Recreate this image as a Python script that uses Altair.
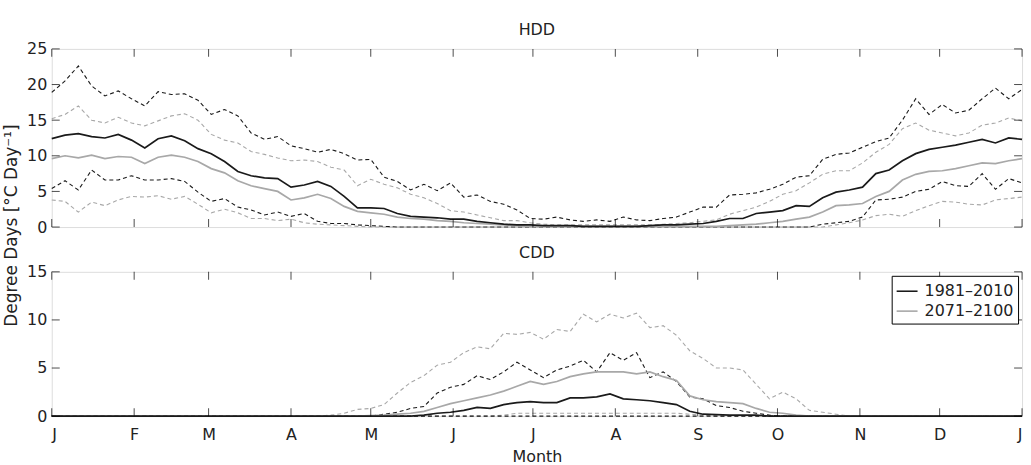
import altair as alt
import pandas as pd

# ---------------- data ----------------
DAYS = list(range(0, 366, 5))  # every 5th day of the year
MONTH_DAYS = [0, 31, 59, 90, 120, 151, 181, 212, 243, 273, 304, 334, 365]
MONTH_LABELS = ["J", "F", "M", "A", "M", "J", "J", "A", "S", "O", "N", "D", "J"]
P1 = "1981–2010"
P2 = "2071–2100"
HDD_TICKS = [0, 5, 10, 15, 20, 25]
CDD_TICKS = [0, 5, 10, 15]

hdd_p1_mean = [12.4, 12.9, 13.1, 12.7, 12.5, 13.0, 12.2, 11.1, 12.4, 12.8,
               12.1, 11.0, 10.3, 9.2, 7.8, 7.2, 6.9, 6.8, 5.6, 5.9,
               6.4, 5.7, 4.3, 2.7, 2.7, 2.6, 1.9, 1.5, 1.4, 1.3,
               1.1, 1.1, 0.8, 0.6, 0.4, 0.3, 0.3, 0.2, 0.2, 0.2,
               0.1, 0.1, 0.1, 0.1, 0.1, 0.2, 0.3, 0.3, 0.4, 0.5,
               0.8, 1.2, 1.2, 1.9, 2.1, 2.3, 3.0, 2.9, 4.1, 4.9,
               5.2, 5.6, 7.5, 8.0, 9.3, 10.3, 10.9, 11.2, 11.5, 11.9,
               12.3, 11.8, 12.5, 12.3]
hdd_p2_mean = [9.6, 10.0, 9.7, 10.1, 9.6, 9.9, 9.8, 8.9, 9.8, 10.1,
               9.8, 9.2, 8.2, 7.6, 6.5, 5.8, 5.4, 5.0, 3.8, 4.1,
               4.6, 4.0, 2.9, 2.2, 2.0, 1.8, 1.4, 1.2, 1.1, 0.9,
               0.8, 0.6, 0.5, 0.4, 0.3, 0.2, 0.1, 0.1, 0.1, 0.1,
               0.1, 0.1, 0.1, 0.1, 0.1, 0.1, 0.1, 0.1, 0.1, 0.1,
               0.1, 0.2, 0.3, 0.4, 0.6, 0.8, 1.1, 1.4, 2.1, 3.0,
               3.1, 3.3, 4.3, 5.0, 6.6, 7.4, 7.8, 7.9, 8.2, 8.6,
               9.0, 8.9, 9.3, 9.6]
hdd_p1_high = [18.9, 20.5, 22.6, 19.8, 18.4, 19.1, 18.0, 17.0, 19.0, 18.6,
               18.7, 17.8, 15.8, 16.5, 15.6, 13.2, 12.3, 12.7, 11.4, 11.0,
               10.5, 10.9, 10.3, 9.4, 9.5, 7.0, 6.4, 5.2, 6.0, 5.1,
               6.2, 4.2, 4.5, 3.6, 3.2, 2.4, 1.2, 1.1, 1.4, 1.0,
               0.8, 1.0, 0.8, 1.4, 1.0, 0.9, 1.2, 1.4, 2.1, 2.8,
               2.8, 4.5, 4.6, 4.8, 5.3, 6.0, 7.0, 7.2, 9.5, 10.2,
               10.4, 11.2, 12.0, 12.5, 15.0, 18.0, 15.8, 17.2, 16.0, 16.4,
               18.0, 19.5, 18.0, 19.3]
hdd_p1_low = [5.4, 6.5, 5.2, 8.0, 6.6, 6.6, 7.2, 6.6, 6.6, 6.8,
              6.4, 4.9, 3.6, 4.0, 2.8, 2.4, 1.7, 2.1, 1.5, 1.9,
              0.8, 0.5, 0.5, 0.3, 0.2, 0.1, 0.0, 0.0, 0.0, 0.0,
              0.0, 0.0, 0.0, 0.0, 0.0, 0.0, 0.0, 0.0, 0.0, 0.0,
              0.0, 0.0, 0.0, 0.0, 0.0, 0.0, 0.0, 0.0, 0.0, 0.0,
              0.0, 0.0, 0.0, 0.0, 0.0, 0.0, 0.0, 0.0, 0.4, 0.6,
              0.8, 1.4, 3.8, 3.9, 4.2, 5.0, 5.3, 6.4, 5.8, 5.7,
              7.5, 5.3, 6.8, 6.2]
hdd_p2_high = [15.2, 15.8, 17.0, 15.0, 14.6, 15.4, 14.6, 14.2, 14.9, 15.6,
               15.9, 15.0, 13.0, 12.2, 11.8, 10.6, 10.2, 9.7, 9.3, 9.4,
               9.2, 8.4, 8.0, 5.8, 6.7, 6.0, 5.5, 4.6, 4.1, 3.3,
               2.3, 2.1, 1.7, 1.3, 0.9, 0.9, 0.6, 0.4, 0.3, 0.3,
               0.3, 0.3, 0.3, 0.3, 0.3, 0.3, 0.4, 0.5, 0.6, 0.8,
               1.0, 1.8, 2.3, 2.8, 3.6, 4.6, 5.1, 6.2, 7.4, 7.9,
               7.9, 9.0, 10.5, 11.6, 13.8, 14.6, 13.6, 13.2, 12.8, 13.2,
               14.3, 14.6, 15.3, 14.9]
hdd_p2_low = [3.8, 3.6, 2.1, 3.5, 3.0, 3.8, 4.3, 4.2, 4.4, 3.9,
              4.3, 3.2, 2.0, 2.5, 2.0, 1.2, 1.2, 0.9, 1.1, 0.6,
              0.4, 0.3, 0.2, 0.1, 0.0, 0.0, 0.0, 0.0, 0.0, 0.0,
              0.0, 0.0, 0.0, 0.0, 0.0, 0.0, 0.0, 0.0, 0.0, 0.0,
              0.0, 0.0, 0.0, 0.0, 0.0, 0.0, 0.0, 0.0, 0.0, 0.0,
              0.0, 0.0, 0.0, 0.0, 0.0, 0.0, 0.0, 0.0, 0.0, 0.3,
              0.6, 1.0, 1.6, 1.8, 1.5, 2.3, 3.0, 3.6, 3.5, 3.2,
              3.1, 3.8, 4.0, 4.2]

cdd_p1_mean = [0.0, 0.0, 0.0, 0.0, 0.0, 0.0, 0.0, 0.0, 0.0, 0.0,
               0.0, 0.0, 0.0, 0.0, 0.0, 0.0, 0.0, 0.0, 0.0, 0.0,
               0.0, 0.0, 0.0, 0.0, 0.0, 0.0, 0.0, 0.0, 0.1, 0.3,
               0.4, 0.6, 0.9, 0.8, 1.2, 1.4, 1.5, 1.4, 1.4, 1.9,
               1.9, 2.0, 2.3, 1.8, 1.7, 1.6, 1.4, 1.2, 0.5, 0.2,
               0.15, 0.1, 0.1, 0.1, 0.0, 0.0, 0.0, 0.0, 0.0, 0.0,
               0.0, 0.0, 0.0, 0.0, 0.0, 0.0, 0.0, 0.0, 0.0, 0.0,
               0.0, 0.0, 0.0, 0.0]
cdd_p2_mean = [0.0, 0.0, 0.0, 0.0, 0.0, 0.0, 0.0, 0.0, 0.0, 0.0,
               0.0, 0.0, 0.0, 0.0, 0.0, 0.0, 0.0, 0.0, 0.0, 0.0,
               0.0, 0.0, 0.0, 0.0, 0.05, 0.1, 0.2, 0.3, 0.5, 0.9,
               1.3, 1.6, 1.9, 2.2, 2.6, 3.1, 3.6, 3.3, 3.6, 4.1,
               4.4, 4.6, 4.6, 4.6, 4.4, 4.6, 4.1, 3.7, 2.1, 1.7,
               1.5, 1.4, 1.3, 0.8, 0.4, 0.3, 0.1, 0.0, 0.0, 0.0,
               0.0, 0.0, 0.0, 0.0, 0.0, 0.0, 0.0, 0.0, 0.0, 0.0,
               0.0, 0.0, 0.0, 0.0]
cdd_p1_high = [0.0, 0.0, 0.0, 0.0, 0.0, 0.0, 0.0, 0.0, 0.0, 0.0,
               0.0, 0.0, 0.0, 0.0, 0.0, 0.0, 0.0, 0.0, 0.0, 0.0,
               0.0, 0.0, 0.0, 0.0, 0.0, 0.2, 0.4, 0.8, 1.0, 2.4,
               3.0, 3.3, 4.2, 3.8, 4.6, 5.6, 4.8, 4.0, 4.8, 5.2,
               5.8, 4.6, 6.6, 5.8, 6.6, 4.0, 4.6, 3.6, 2.0, 1.8,
               1.1, 0.9, 0.5, 0.3, 0.1, 0.0, 0.0, 0.0, 0.0, 0.0,
               0.0, 0.0, 0.0, 0.0, 0.0, 0.0, 0.0, 0.0, 0.0, 0.0,
               0.0, 0.0, 0.0, 0.0]
cdd_p1_low = [0.0, 0.0, 0.0, 0.0, 0.0, 0.0, 0.0, 0.0, 0.0, 0.0,
              0.0, 0.0, 0.0, 0.0, 0.0, 0.0, 0.0, 0.0, 0.0, 0.0,
              0.0, 0.0, 0.0, 0.0, 0.0, 0.0, 0.0, 0.0, 0.0, 0.0,
              0.0, 0.0, 0.0, 0.0, 0.0, 0.0, 0.0, 0.0, 0.0, 0.0,
              0.0, 0.0, 0.0, 0.0, 0.0, 0.0, 0.0, 0.0, 0.0, 0.0,
              0.0, 0.0, 0.0, 0.0, 0.0, 0.0, 0.0, 0.0, 0.0, 0.0,
              0.0, 0.0, 0.0, 0.0, 0.0, 0.0, 0.0, 0.0, 0.0, 0.0,
              0.0, 0.0, 0.0, 0.0]
cdd_p2_high = [0.0, 0.0, 0.0, 0.0, 0.0, 0.0, 0.0, 0.0, 0.0, 0.0,
               0.0, 0.0, 0.0, 0.0, 0.0, 0.0, 0.0, 0.0, 0.0, 0.0,
               0.0, 0.1, 0.3, 0.7, 0.8, 1.2, 2.4, 3.5, 4.2, 5.3,
               5.6, 6.6, 7.2, 7.0, 8.6, 8.5, 8.7, 8.0, 9.0, 8.8,
               10.6, 9.8, 10.6, 10.2, 10.7, 9.2, 9.4, 8.4, 6.8, 6.0,
               5.0, 5.0, 4.8, 3.3, 1.8, 2.5, 1.8, 0.6, 0.4, 0.2,
               0.0, 0.0, 0.0, 0.0, 0.0, 0.0, 0.0, 0.0, 0.0, 0.0,
               0.0, 0.0, 0.0, 0.0]
cdd_p2_low = [0.0, 0.0, 0.0, 0.0, 0.0, 0.0, 0.0, 0.0, 0.0, 0.0,
              0.0, 0.0, 0.0, 0.0, 0.0, 0.0, 0.0, 0.0, 0.0, 0.0,
              0.0, 0.0, 0.0, 0.0, 0.0, 0.0, 0.0, 0.0, 0.0, 0.0,
              0.0, 0.0, 0.0, 0.0, 0.1, 0.3, 0.3, 0.3, 0.3, 0.3,
              0.3, 0.3, 0.3, 0.3, 0.3, 0.3, 0.3, 0.3, 0.2, 0.1,
              0.0, 0.0, 0.0, 0.0, 0.0, 0.0, 0.0, 0.0, 0.0, 0.0,
              0.0, 0.0, 0.0, 0.0, 0.0, 0.0, 0.0, 0.0, 0.0, 0.0,
              0.0, 0.0, 0.0, 0.0]

# ---------------- tables ----------------
def long_table(series):
    rows = []
    for period, stat, vals in series:
        for d, v in zip(DAYS, vals):
            rows.append({"day": d, "value": v, "period": period, "stat": stat})
    return pd.DataFrame(rows)

hdd_df = long_table([
    (P2, "high", hdd_p2_high), (P2, "low", hdd_p2_low),
    (P1, "high", hdd_p1_high), (P1, "low", hdd_p1_low),
    (P2, "mean", hdd_p2_mean), (P1, "mean", hdd_p1_mean),
])
cdd_df = long_table([
    (P2, "high", cdd_p2_high), (P2, "low", cdd_p2_low),
    (P1, "high", cdd_p1_high), (P1, "low", cdd_p1_low),
    (P2, "mean", cdd_p2_mean), (P1, "mean", cdd_p1_mean),
])
xtick_df = pd.DataFrame({"day": MONTH_DAYS})

# ---------------- styling ----------------
FONT = "DejaVu Sans"
TXT = "#222222"
W = 975
H_TOP = 179
H_BOT = 145
color_scale = alt.Scale(domain=[P1, P2], range=["#1a1a1a", "#a8a8a8"])
x_scale = alt.Scale(domain=[0, 365], nice=False, zero=False)

label_expr = ("[" + ",".join("'%s'" % l for l in MONTH_LABELS) + "][indexof(["
              + ",".join(str(d) for d in MONTH_DAYS) + "], datum.value)]")


def panel(df, ymax, yticks, height, title, bottom, legend):
    y_scale = alt.Scale(domain=[0, ymax], nice=False)
    if bottom:
        x_axis = alt.Axis(values=MONTH_DAYS, labelExpr=label_expr, ticks=False,
                          domain=False, grid=False, labelPadding=10,
                          labelFontSize=16, labelFont=FONT, labelColor=TXT,
                          title="Month", titleFontSize=16, titleFont=FONT,
                          titleColor=TXT, titleFontWeight="normal",
                          titlePadding=7)
    else:
        x_axis = alt.Axis(values=MONTH_DAYS, labels=False, ticks=False,
                          domain=False, grid=False, title=None)
    if bottom:
        y_axis = alt.Axis(values=yticks, ticks=False, domain=False, grid=False,
                          labelFontSize=16, labelFont=FONT, labelColor=TXT,
                          labelPadding=5, title=None)
    else:
        y_axis = alt.Axis(values=yticks, ticks=False, domain=False, grid=False,
                          labelFontSize=16, labelFont=FONT, labelColor=TXT,
                          labelPadding=5, title="Degree Days [°C Day⁻¹]",
                          titleFontSize=17, titleFont=FONT, titleColor=TXT,
                          titleFontWeight="normal", titleX=-40, titleY=177,
                          titleAngle=-90, titleAlign="center",
                          titleBaseline="middle")

    if legend:
        leg = alt.Legend(title=None, orient="top-right", offset=4,
                         symbolType="stroke", symbolStrokeWidth=1.6,
                         symbolSize=441, labelFont=FONT, labelFontSize=16,
                         labelColor=TXT, labelOffset=6, padding=4,
                         rowPadding=0, strokeColor="black", fillColor="white",
                         cornerRadius=0)
    else:
        leg = None

    X = alt.X("day:Q", scale=x_scale, axis=x_axis)
    base = alt.Chart(df)
    dashed = base.transform_filter(alt.datum.stat != "mean").mark_line(
        strokeDash=[4, 3], strokeWidth=1.1
    ).encode(
        x=X,
        y=alt.Y("value:Q", scale=y_scale, axis=y_axis),
        color=alt.Color("period:N", scale=color_scale, legend=leg),
        detail="stat:N",
    )
    mean = base.transform_filter(alt.datum.stat == "mean").mark_line(
        strokeWidth=1.7
    ).encode(
        x=X,
        y=alt.Y("value:Q", scale=y_scale, axis=y_axis),
        color=alt.Color("period:N", scale=color_scale, legend=leg),
        detail="stat:N",
    )

    ytick_df = pd.DataFrame({"value": yticks})
    tick_style = dict(color="black", thickness=1, size=8)
    YT = alt.Y("value:Q", scale=y_scale, axis=y_axis)
    xt_bot = alt.Chart(xtick_df).mark_tick(**tick_style).encode(
        x=X, y=alt.value(height - 4))
    xt_top = alt.Chart(xtick_df).mark_tick(**tick_style).encode(
        x=X, y=alt.value(4))
    yt_left = alt.Chart(ytick_df).mark_tick(**tick_style).encode(
        y=YT, x=alt.value(4))
    yt_right = alt.Chart(ytick_df).mark_tick(**tick_style).encode(
        y=YT, x=alt.value(W - 4))

    return alt.layer(dashed, mean, xt_bot, xt_top, yt_left, yt_right).properties(
        width=W, height=height,
        title=alt.TitleParams(title, font=FONT, fontSize=16, color=TXT,
                              fontWeight="normal", offset=3, anchor="middle"),
    )


top = panel(hdd_df, 25, HDD_TICKS, H_TOP, "HDD", bottom=False, legend=False)
bot = panel(cdd_df, 15, CDD_TICKS, H_BOT, "CDD", bottom=True, legend=True)

chart = alt.vconcat(top, bot, spacing=45, bounds="flush").resolve_legend(
    color="independent"
).properties(
    padding={"left": 2, "top": 20, "right": 5, "bottom": 5}
).configure_view(
    stroke="black", strokeWidth=1.2
).configure(background="white")

chart.save("out.html", embed_options={"renderer": "svg", "actions": False})
